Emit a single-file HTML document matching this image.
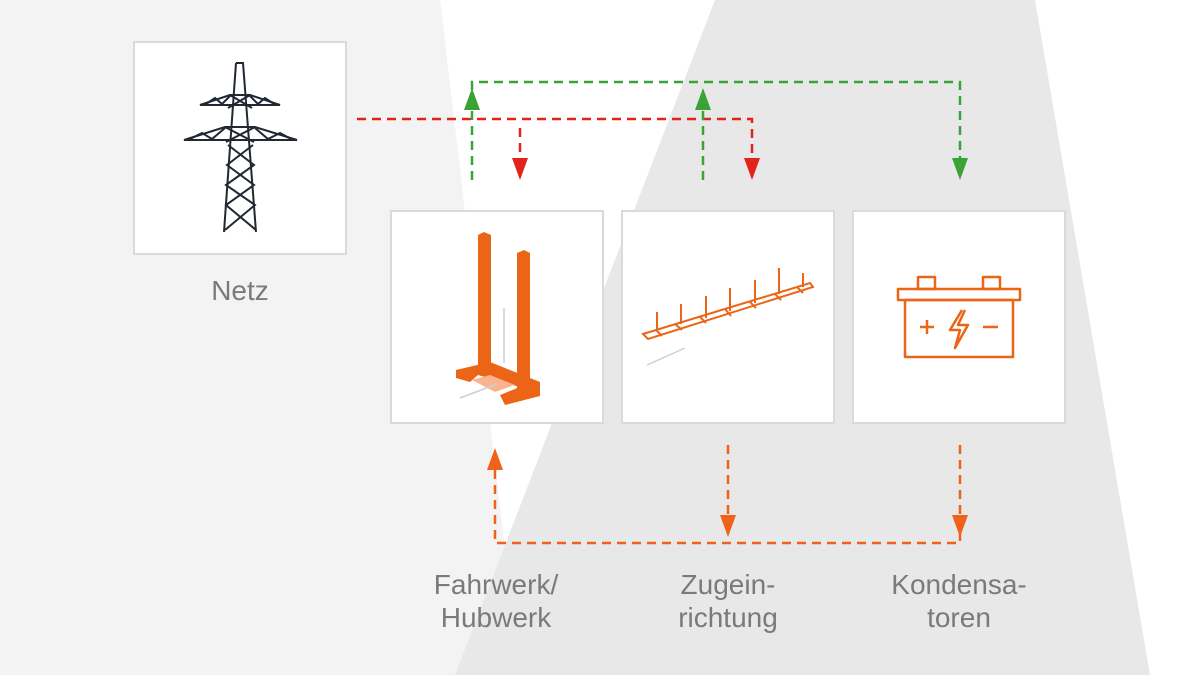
<!DOCTYPE html>
<html><head><meta charset="utf-8"><style>
body{margin:0;width:1200px;height:675px;overflow:hidden;background:#fff;font-family:"Liberation Sans",sans-serif}
.box{position:absolute;background:#fff;border:2px solid #dadada;box-sizing:border-box}
.lbl{position:absolute;color:#7a7a7a;font-size:28px;text-align:center;line-height:33px;width:240px}
</style></head><body>
<svg width="1200" height="675" style="position:absolute;left:0;top:0">
<polygon points="0,0 440,0 520,675 0,675" fill="#f3f3f3"/>
<polygon points="715,0 1035,0 1150,675 455,675" fill="#e8e8e8"/>
</svg>
<div class="box" style="left:133px;top:41px;width:214px;height:214px"></div>
<div class="box" style="left:390px;top:210px;width:214px;height:214px"></div>
<div class="box" style="left:621px;top:210px;width:214px;height:214px"></div>
<div class="box" style="left:852px;top:210px;width:214px;height:214px"></div>
<svg width="1200" height="675" style="position:absolute;left:0;top:0">
<g fill="none" stroke="#1f2833" stroke-width="2">
<path d="M236,63 L243,63 L256,232 M236,63 L224,232"/>
<path d="M200,105 L280,105 L250,95 L230,95 Z"/>
<path d="M184,140 L297,140 L255,127 L225,127 Z"/>
<path d="M230,95 L252,108 M250,95 L228,108 M225,127 L254,142 M255,127 L226,142 M228,145 L254,165 L226,185 L255,205 L225,230 M253,145 L227,165 L254,185 L226,205 L256,230 M206,104 L215,98 L222,104 L230,96 M274,104 L265,98 L258,104 L250,96 M190,139 L202,133 L212,139 L225,128 M291,139 L280,133 L268,139 L255,128"/>
</g>
<g fill="#ec6517">
<polygon points="478,235 484,232 491,235 491,368 478,368"/>
<polygon points="517,253 524,250 530,253 530,390 517,390"/>
<polygon points="456,370 490,362 540,382 540,396 505,405 500,395 520,387 478,375 470,382 456,378"/>
</g>
<polygon points="472,380 490,375 515,385 495,392" fill="#f9b48f"/>
<g stroke="#cfcfcf" stroke-width="1.5" fill="none"><path d="M504,308 L504,363 M460,398 L497,384 M647,365 L685,348"/></g>
<g stroke="#ec6517" stroke-width="2" fill="none">
<path d="M643,334 L810,283 L813,287 L648,339 Z"/>
<path d="M656,330 L662,336 M675,324 L682,330 M700,317 L706,323 M725,309 L731,316 M750,302 L756,308 M775,294 L781,300 M797,287 L803,293"/>
<path d="M657,312 V330 M681,304 V324 M706,296 V318 M730,288 V311 M755,280 V303 M779,268 V294 M803,273 V287"/>
</g>
<g stroke="#ec6517" stroke-width="2.5" fill="none" stroke-linejoin="round">
<rect x="898" y="289" width="122" height="11"/>
<rect x="905" y="300" width="108" height="57"/>
<rect x="918" y="277" width="17" height="12"/><rect x="983" y="277" width="17" height="12"/>
<path d="M920,327 H934 M927,320 V334 M983,327 H998 M962,310 L950,330 H960 L955,348 L968,325 H958 L965,310"/>
</g>
<g fill="none" stroke-width="2.5" stroke-dasharray="9,6">
<path d="M357,119 H752 V160 M520,128 V160" stroke="#e2231a"/>
<path d="M472,180 V82 H960 V160 M703,180 V110" stroke="#3aa335"/>
<path d="M495,470 V543 H960 V520 M728,445 V520 M960,445 V520" stroke="#f0611a"/>
</g>
<g fill="#e2231a"><polygon points="512,158 528,158 520,180"/><polygon points="744,158 760,158 752,180"/></g>
<g fill="#3aa335"><polygon points="464,110 480,110 472,88"/><polygon points="695,110 711,110 703,88"/><polygon points="952,158 968,158 960,180"/></g>
<g fill="#f0611a"><polygon points="487,470 503,470 495,448"/><polygon points="720,515 736,515 728,537"/><polygon points="952,515 968,515 960,537"/></g>
</svg>
<div class="lbl" style="left:120px;top:274px">Netz</div>
<div class="lbl" style="left:376px;top:568px">Fahrwerk/<br>Hubwerk</div>
<div class="lbl" style="left:608px;top:568px">Zugein-<br>richtung</div>
<div class="lbl" style="left:839px;top:568px">Kondensa-<br>toren</div>
</body></html>
